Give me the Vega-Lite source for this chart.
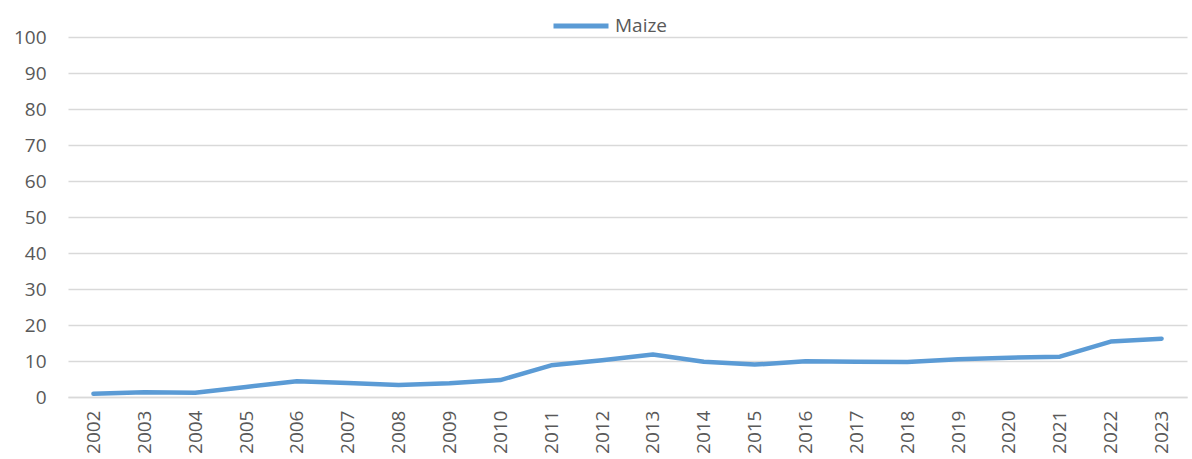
{
  "$schema": "https://vega.github.io/schema/vega-lite/v6.json",
  "width": 1119,
  "height": 360,
  "autosize": {"type": "none"},
  "padding": {"left": 68, "top": 37, "right": 5, "bottom": 62},
  "background": "white",
  "config": {
    "view": {"stroke": null},
    "font": "Open Sans"
  },
  "data": {
    "values": [
      {"year": "2002", "value": 0.9, "series": "Maize"},
      {"year": "2003", "value": 1.3, "series": "Maize"},
      {"year": "2004", "value": 1.2, "series": "Maize"},
      {"year": "2005", "value": 2.8, "series": "Maize"},
      {"year": "2006", "value": 4.4, "series": "Maize"},
      {"year": "2007", "value": 3.9, "series": "Maize"},
      {"year": "2008", "value": 3.3, "series": "Maize"},
      {"year": "2009", "value": 3.8, "series": "Maize"},
      {"year": "2010", "value": 4.7, "series": "Maize"},
      {"year": "2011", "value": 8.8, "series": "Maize"},
      {"year": "2012", "value": 10.2, "series": "Maize"},
      {"year": "2013", "value": 11.8, "series": "Maize"},
      {"year": "2014", "value": 9.8, "series": "Maize"},
      {"year": "2015", "value": 9.0, "series": "Maize"},
      {"year": "2016", "value": 9.9, "series": "Maize"},
      {"year": "2017", "value": 9.8, "series": "Maize"},
      {"year": "2018", "value": 9.7, "series": "Maize"},
      {"year": "2019", "value": 10.5, "series": "Maize"},
      {"year": "2020", "value": 10.9, "series": "Maize"},
      {"year": "2021", "value": 11.2, "series": "Maize"},
      {"year": "2022", "value": 15.4, "series": "Maize"},
      {"year": "2023", "value": 16.2, "series": "Maize"}
    ]
  },
  "mark": {"type": "line", "strokeWidth": 4.5, "strokeCap": "round", "strokeJoin": "round"},
  "encoding": {
    "x": {
      "field": "year",
      "type": "ordinal",
      "scale": {"type": "point", "padding": 0.5},
      "axis": {
        "title": null,
        "labelAngle": -90,
        "labelFontSize": 19,
        "labelColor": "#595959",
        "labelPadding": 13,
        "ticks": false,
        "domainColor": "#d9d9d9",
        "domainWidth": 1.5,
        "grid": false
      }
    },
    "y": {
      "field": "value",
      "type": "quantitative",
      "scale": {"domain": [0, 100], "nice": false},
      "axis": {
        "title": null,
        "values": [0, 10, 20, 30, 40, 50, 60, 70, 80, 90, 100],
        "labelFontSize": 19,
        "labelColor": "#595959",
        "labelPadding": 22,
        "ticks": false,
        "domain": false,
        "gridColor": "#d9d9d9",
        "gridWidth": 1.5
      }
    },
    "color": {
      "field": "series",
      "type": "nominal",
      "scale": {"range": ["#5B9BD5"]},
      "legend": {
        "title": null,
        "orient": "none",
        "legendX": 483,
        "legendY": -41,
        "symbolType": "stroke",
        "symbolSize": 3025,
        "symbolStrokeWidth": 5,
        "labelFontSize": 19,
        "labelColor": "#595959",
        "labelOffset": 4,
        "padding": 0
      }
    }
  }
}
